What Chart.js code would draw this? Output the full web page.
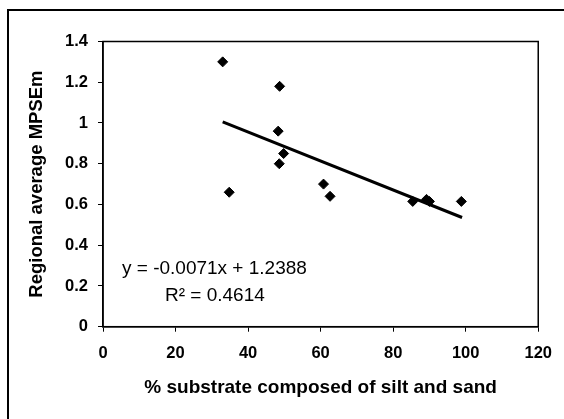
<!DOCTYPE html>
<html>
<head>
<meta charset="utf-8">
<script src="https://cdn.jsdelivr.net/npm/chart.js@4.4.1/dist/chart.umd.min.js"></script>
<style>
  html, body { margin: 0; padding: 0; background: #ffffff; width: 564px; height: 419px; overflow: hidden; }
  #frame { position: absolute; left: 7px; top: 9px; width: 620px; height: 520px; border: 2px solid #000; box-sizing: border-box; }
  #wrap { position: absolute; left: 0; top: 0; width: 564px; height: 419px; }
</style>
</head>
<body>
<div id="frame"></div>
<div id="wrap"><canvas id="c" width="564" height="419"></canvas></div>
<script>
// Data
const xValues = [33.0, 34.8, 48.7, 48.3, 49.8, 48.6, 60.8, 62.6, 85.4, 89.2, 90.0, 98.8];
const yValues = [1.30, 0.66, 1.18, 0.96, 0.85, 0.80, 0.70, 0.64, 0.615, 0.625, 0.615, 0.615];
const trendX = [33.0, 99.0];
const trendY = [1.005, 0.536];
const xTickLabels = ['0', '20', '40', '60', '80', '100', '120'];
const yTickLabels = ['0', '0.2', '0.4', '0.6', '0.8', '1', '1.2', '1.4'];
const xTitle = '% substrate composed of silt and sand';
const yTitle = 'Regional average MPSEm';
const equationText = 'y = -0.0071x + 1.2388';
const r2Text = 'R\u00B2 = 0.4614';

const FONT = '"Liberation Sans", Arial, sans-serif';

const points = xValues.map((x, i) => ({ x: x, y: yValues[i] }));
const trend = trendX.map((x, i) => ({ x: x, y: trendY[i] }));

const frameAndText = {
  id: 'frameAndText',
  afterDatasetsDraw(chart) {
    const { ctx, chartArea } = chart;
    ctx.save();
    ctx.strokeStyle = '#000';
    ctx.lineWidth = 1.5;
    ctx.strokeRect(chartArea.left, chartArea.top, chartArea.right - chartArea.left, chartArea.bottom - chartArea.top);
    ctx.fillStyle = '#000';
    ctx.font = '19px ' + FONT;
    ctx.textBaseline = 'middle';
    ctx.textAlign = 'left';
    ctx.fillText(equationText, 122, 269);
    ctx.fillText(r2Text, 165, 296);
    ctx.restore();
  }
};

new Chart(document.getElementById('c'), {
  type: 'scatter',
  data: {
    datasets: [
      {
        label: 'data',
        data: points,
        pointStyle: 'rectRot',
        pointRadius: 5,
        pointBackgroundColor: '#000',
        pointBorderColor: '#000',
        pointBorderWidth: 1,
        showLine: false,
        order: 1
      },
      {
        label: 'trend',
        type: 'line',
        data: trend,
        borderColor: '#000',
        borderWidth: 3,
        pointRadius: 0,
        fill: false,
        tension: 0,
        order: 2
      }
    ]
  },
  plugins: [frameAndText],
  options: {
    responsive: false,
    animation: false,
    devicePixelRatio: 1,
    layout: { padding: { left: 0, top: 41.5, right: 24, bottom: 0 } },
    plugins: {
      legend: { display: false },
      tooltip: { enabled: false }
    },
    scales: {
      x: {
        type: 'linear',
        min: 0, max: 120,
        afterFit(scale) { scale.height = 92.3; },
        afterBuildTicks(scale) { scale.ticks = xTickLabels.map(v => ({ value: Number(v) })); },
        ticks: {
          color: '#000',
          font: { family: FONT, size: 16.5, weight: 'bold' },
          padding: 12,
          maxRotation: 0,
          callback: (v, i) => xTickLabels[i]
        },
        grid: { display: true, drawOnChartArea: false, drawTicks: true, tickLength: 5, color: '#000', lineWidth: 1 },
        border: { display: true, color: '#000', width: 1.5 },
        title: {
          display: true, text: xTitle, color: '#000',
          font: { family: FONT, size: 19, weight: 'bold' },
          padding: { top: 0, bottom: 19.6 }
        }
      },
      y: {
        type: 'linear',
        min: 0, max: 1.4,
        afterFit(scale) { scale.width = 103; },
        afterBuildTicks(scale) { scale.ticks = yTickLabels.map(v => ({ value: Number(v) })); },
        ticks: {
          color: '#000',
          font: { family: FONT, size: 16.5, weight: 'bold' },
          padding: 10,
          callback: (v, i) => yTickLabels[i]
        },
        grid: { display: true, drawOnChartArea: false, drawTicks: true, tickLength: 5, color: '#000', lineWidth: 1 },
        border: { display: true, color: '#000', width: 1.5 },
        title: {
          display: true, text: yTitle, color: '#000',
          font: { family: FONT, size: 18.5, weight: 'bold' },
          padding: { top: 26, bottom: 0 }
        }
      }
    }
  }
});
</script>
</body>
</html>
